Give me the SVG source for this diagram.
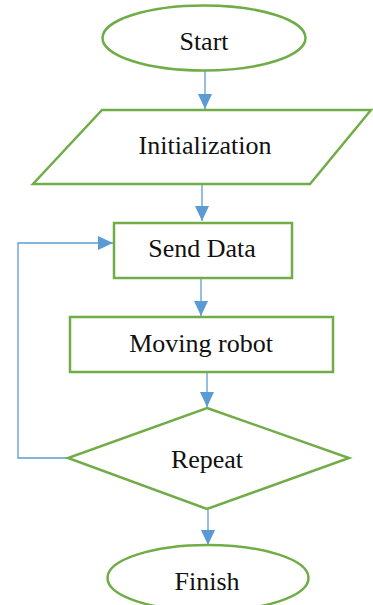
<svg xmlns="http://www.w3.org/2000/svg" width="373" height="605" viewBox="0 0 373 605">
<style>
.shape{fill:#ffffff;stroke:#70AD47;stroke-width:2.5}
.lbl{font-family:"Liberation Serif","Times New Roman",serif;font-size:26px;fill:#111111;text-anchor:middle}
.conn{fill:none;stroke:#5B9BD5;stroke-width:1.3}
</style>
<defs>
<marker id="ah" markerUnits="userSpaceOnUse" markerWidth="15" markerHeight="14" refX="15" refY="7" orient="auto">
<path d="M0,0 L15,7 L0,14 z" fill="#5B9BD5"/>
</marker>
</defs>
<rect width="373" height="605" fill="#ffffff"/>
<g id="connectors">
<line class="conn" x1="205" y1="71" x2="205" y2="109" marker-end="url(#ah)"/>
<line class="conn" x1="202" y1="185" x2="202" y2="221" marker-end="url(#ah)"/>
<line class="conn" x1="201" y1="279" x2="201" y2="316" marker-end="url(#ah)"/>
<line class="conn" x1="207" y1="373" x2="207" y2="407" marker-end="url(#ah)"/>
<line class="conn" x1="208" y1="510" x2="208" y2="545" marker-end="url(#ah)"/>
<polyline class="conn" points="68,458 18,458 18,243 113,243" marker-end="url(#ah)"/>
</g>
<g id="start">
<ellipse class="shape" cx="204" cy="38" rx="101.5" ry="32.5"/>
<text class="lbl" x="204" y="50">Start</text>
</g>
<g id="init">
<polygon class="shape" points="102,110 371,110 310,184 33,184"/>
<text class="lbl" x="205" y="154">Initialization</text>
</g>
<g id="send">
<rect class="shape" x="114" y="223" width="178" height="55"/>
<text class="lbl" x="202" y="257">Send Data</text>
</g>
<g id="moving">
<rect class="shape" x="70" y="317" width="263" height="55"/>
<text class="lbl" x="201" y="352">Moving robot</text>
</g>
<g id="repeat">
<polygon class="shape" points="207,408 349,458 207,509 68,458"/>
<text class="lbl" x="207" y="468">Repeat</text>
</g>
<g id="finish">
<ellipse class="shape" cx="208" cy="578" rx="100.5" ry="33"/>
<text class="lbl" x="207" y="590">Finish</text>
</g>
</svg>
